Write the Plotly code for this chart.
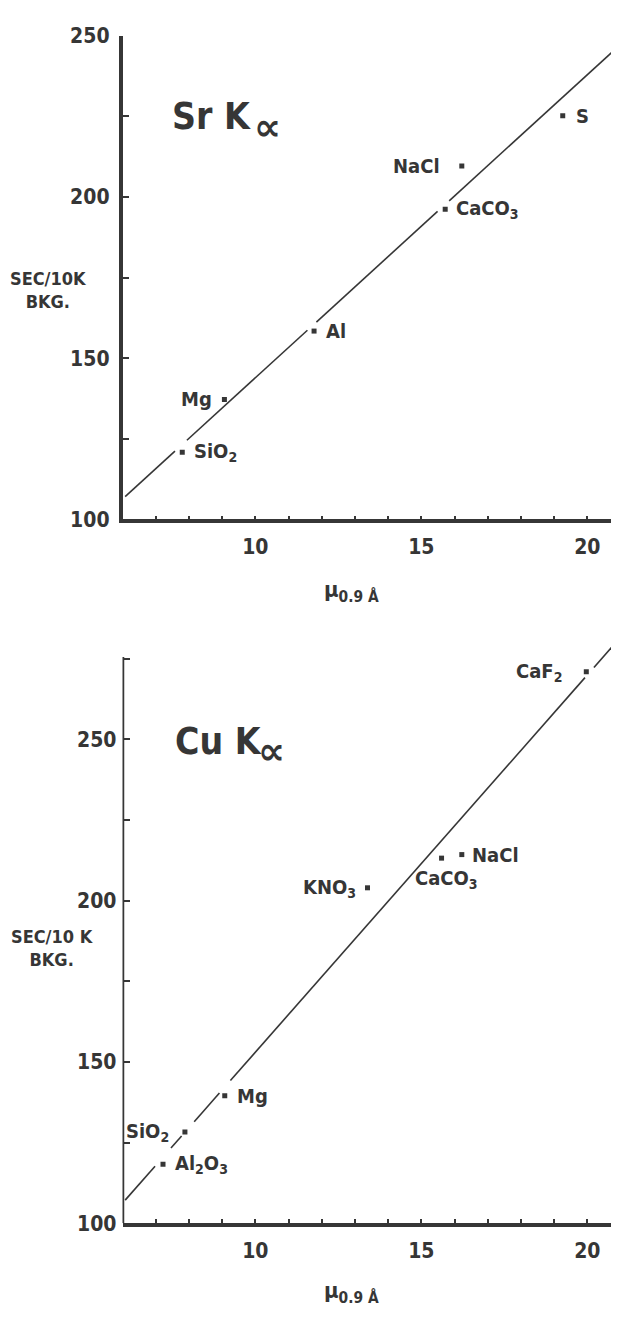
import plotly.graph_objects as go

FONT = "Liberation Sans Narrow, DejaVu Sans Condensed, Arial Narrow, sans-serif"
INK = "#363636"

# ---------------- data: top panel (Sr K-alpha) ----------------
sr_labels = ["SiO<sub>2</sub>", "Mg", "Al", "CaCO<sub>3</sub>", "NaCl", "S"]
sr_mu = [7.80, 9.07, 11.77, 15.72, 16.22, 19.26]
sr_counts = [120.8, 137.2, 158.4, 196.2, 209.6, 225.2]
sr_fit_x0 = 6.0
sr_fit_y0 = 106.3
sr_fit_slope = 9.4
sr_fit_span = (6.08, 20.96)
sr_fit_breaks = [(7.58, 7.94), (11.57, 11.84), (15.49, 15.84)]

# ---------------- data: bottom panel (Cu K-alpha) ----------------
cu_labels = ["Al<sub>2</sub>O<sub>3</sub>", "SiO<sub>2</sub>", "Mg", "KNO<sub>3</sub>",
             "CaCO<sub>3</sub>", "NaCl", "CaF<sub>2</sub>"]
cu_mu = [7.22, 7.88, 9.08, 13.38, 15.61, 16.22, 19.97]
cu_counts = [118.3, 128.3, 139.5, 204.0, 213.2, 214.3, 271.0]
cu_fit_x0 = 6.0
cu_fit_y0 = 106.2
cu_fit_slope = 11.7
cu_fit_span = (6.08, 20.90)
cu_fit_breaks = [(6.98, 7.46), (7.78, 8.16), (8.92, 9.25), (19.93, 20.20)]

# axis ticks
x_major = [10, 15, 20]
x_minor = [7, 8, 9, 11, 12, 13, 14, 16, 17, 18, 19]
y_major = [100, 150, 200, 250]
y_minor_top = [125, 175, 225]
y_minor_bot = [125, 175, 225, 275]

# label placement (style): side and pixel offsets
sr_label_side = ["right", "left", "right", "right", "left", "right"]
sr_label_dx = [10, -10, 10, 9, -20, 11]
cu_label_side = ["right", "left", "right", "left", "below", "right", "left"]
cu_label_dx = [10, -14, 10, -10, 5, 8, -22]


def fit_segments(x0, y0, slope, span, breaks):
    edges = [span[0]] + [v for b in breaks for v in b] + [span[1]]
    xs = []
    for a, b in zip(edges[0::2], edges[1::2]):
        xs += [a, b, None]
    ys = [None if x is None else y0 + slope * (x - x0) for x in xs]
    return xs, ys


fig = go.Figure()

for (x0, y0, sl, span, brk, xa, ya) in [
    (sr_fit_x0, sr_fit_y0, sr_fit_slope, sr_fit_span, sr_fit_breaks, "x", "y"),
    (cu_fit_x0, cu_fit_y0, cu_fit_slope, cu_fit_span, cu_fit_breaks, "x2", "y2"),
]:
    lx, ly = fit_segments(x0, y0, sl, span, brk)
    fig.add_trace(go.Scatter(x=lx, y=ly, mode="lines", xaxis=xa, yaxis=ya,
                             line=dict(color=INK, width=1.6), hoverinfo="skip",
                             showlegend=False, connectgaps=False, cliponaxis=False))

fig.add_trace(go.Scatter(x=sr_mu, y=sr_counts, mode="markers", xaxis="x", yaxis="y",
                         marker=dict(symbol="square", size=5, color=INK),
                         showlegend=False))
fig.add_trace(go.Scatter(x=cu_mu, y=cu_counts, mode="markers", xaxis="x2", yaxis="y2",
                         marker=dict(symbol="square", size=5, color=INK),
                         showlegend=False))
# dot at the end of the top x axis
fig.add_trace(go.Scatter(x=[20.85], y=[100], mode="markers", xaxis="x", yaxis="y",
                         marker=dict(symbol="circle", size=7, color=INK),
                         cliponaxis=False, showlegend=False, hoverinfo="skip"))

annotations = []


def add_labels(labels, xs, ys, sides, dxs, xref, yref):
    for t, x, y, s, dx in zip(labels, xs, ys, sides, dxs):
        a = dict(text=t, x=x, y=y, xref=xref, yref=yref, showarrow=False,
                 font=dict(family=FONT, size=20, color=INK, weight="bold"))
        if s == "right":
            a.update(xanchor="left", yanchor="middle", xshift=dx)
        elif s == "left":
            a.update(xanchor="right", yanchor="middle", xshift=dx)
        else:
            a.update(xanchor="center", yanchor="top", xshift=dx, yshift=-6)
        annotations.append(a)


add_labels(sr_labels, sr_mu, sr_counts, sr_label_side, sr_label_dx, "x", "y")
add_labels(cu_labels, cu_mu, cu_counts, cu_label_side, cu_label_dx, "x2", "y2")

# panel titles
title_font = dict(family=FONT, size=37, color=INK, weight="bold")
alpha_font = dict(family="DejaVu Sans", size=38, color=INK, weight="bold")
annotations.append(dict(text="Sr K", x=7.43, y=224.9, xref="x", yref="y",
                        xanchor="left", yanchor="middle", showarrow=False, font=title_font))
annotations.append(dict(text="∝", x=9.90, y=221.6, xref="x", yref="y",
                        xanchor="left", yanchor="middle", showarrow=False, font=alpha_font))
annotations.append(dict(text="Cu K", x=7.52, y=249.5, xref="x2", yref="y2",
                        xanchor="left", yanchor="middle", showarrow=False, font=title_font))
annotations.append(dict(text="∝", x=10.02, y=246.3, xref="x2", yref="y2",
                        xanchor="left", yanchor="middle", showarrow=False, font=alpha_font))

# y axis titles
annotations.append(dict(text="SEC/10K<br>BKG.", x=0.0655, y=171.1, xref="paper", yref="y",
                        xanchor="center", yanchor="middle", align="center", showarrow=False,
                        font=dict(family=FONT, size=18, color=INK, weight="bold")))
annotations.append(dict(text="SEC/10 K<br>BKG.", x=0.0735, y=185.4, xref="paper", yref="y2",
                        xanchor="center", yanchor="middle", align="center", showarrow=False,
                        font=dict(family=FONT, size=18, color=INK, weight="bold")))

# x axis titles
for yp in [0.56903, 0.02441]:
    annotations.append(dict(text="μ<sub>0.9 Å</sub>", x=0.5139, y=yp, xref="paper", yref="paper",
                            xanchor="left", yanchor="top", showarrow=False,
                            font=dict(family=FONT, size=22, color=INK, weight="bold")))


def xaxis_cfg(anchor):
    return dict(domain=[0.18740, 1.0], range=[6, 20.955], anchor=anchor,
                tickmode="array", tickvals=x_major, ticktext=[str(v) for v in x_major],
                ticks="inside", ticklen=4, tickwidth=2, tickcolor=INK,
                minor=dict(tickmode="array", tickvals=x_minor, ticks="inside",
                           ticklen=4, tickwidth=2, tickcolor=INK, showgrid=False),
                showline=True, linewidth=3.5, linecolor=INK,
                showgrid=False, zeroline=False, ticklabelstandoff=6,
                tickfont=dict(family=FONT, size=21, color=INK, weight="bold"))


def yaxis_cfg(anchor, domain, rng, minor_ticks, showline):
    return dict(domain=domain, range=rng, anchor=anchor,
                tickmode="array", tickvals=y_major, ticktext=[str(v) for v in y_major],
                ticks="inside", ticklen=7, tickwidth=2, tickcolor=INK,
                minor=dict(tickmode="array", tickvals=minor_ticks, ticks="inside",
                           ticklen=7, tickwidth=2, tickcolor=INK, showgrid=False),
                showline=showline, linewidth=3.5, linecolor=INK,
                showgrid=False, zeroline=False, ticklabelstandoff=5,
                tickfont=dict(family=FONT, size=21, color=INK, weight="bold"))


fig.update_layout(
    width=611, height=1311,
    margin=dict(l=0, r=0, t=0, b=0),
    paper_bgcolor="white", plot_bgcolor="white",
    xaxis=xaxis_cfg("y"),
    yaxis=yaxis_cfg("x", [0.61198, 0.98780], [100, 250], y_minor_top, True),
    xaxis2=xaxis_cfg("y2"),
    yaxis2=yaxis_cfg("x2", [0.06514, 0.52365], [100, 283], y_minor_bot, False),
    annotations=annotations,
    shapes=[dict(type="line", xref="x2", yref="y2", x0=6, x1=6, y0=100, y1=275.6,
                 line=dict(color=INK, width=3.5))],
)

fig.write_html("out.html")
